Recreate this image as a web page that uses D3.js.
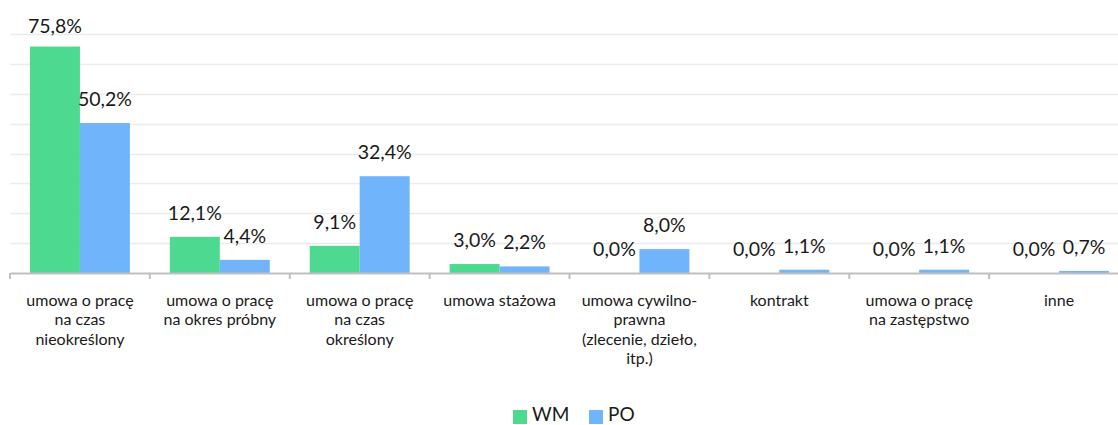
<!DOCTYPE html>
<html>
<head>
<meta charset="utf-8">
<script src="https://cdn.jsdelivr.net/npm/d3@7"></script>
<style>
  body { margin: 0; background: #fff; }
  svg { display: block; font-family: Lato, "Open Sans", sans-serif; }
</style>
</head>
<body>
<div class="canvas"></div>
<script>
// kategorie (podzielone na linie jak w oryginale)
var categories = [
  ["umowa o pracę", "na czas", "nieokreślony"],
  ["umowa o pracę", "na okres próbny"],
  ["umowa o pracę", "na czas", "określony"],
  ["umowa stażowa"],
  ["umowa cywilno-", "prawna", "(zlecenie, dzieło,", "itp.)"],
  ["kontrakt"],
  ["umowa o pracę", "na zastępstwo"],
  ["inne"]
];
var seriesNames = ["WM", "PO"];
var wm = [75.8, 12.1, 9.1, 3.0, 0.0, 0.0, 0.0, 0.0];
var po = [50.2, 4.4, 32.4, 2.2, 8.0, 1.1, 1.1, 0.7];
var yTicks = [0, 10, 20, 30, 40, 50, 60, 70, 80];

var colors = ["#4dd990", "#70b4fc"];

var width = 1118, height = 425;
var svg = d3.select(".canvas").append("svg")
  .attr("width", width)
  .attr("height", height);

// skale
var x = d3.scaleBand()
  .domain(d3.range(categories.length))
  .range([10, 1129]);

var xs = d3.scaleBand()
  .domain([0, 1])
  .range([0, x.bandwidth()])
  .paddingInner(0)
  .paddingOuter(0.4);

var y = d3.scaleLinear()
  .domain([0, 80])
  .range([273, 34]);

// linie siatki
svg.append("g").selectAll("line")
  .data(yTicks.slice(1))
  .enter().append("line")
  .attr("x1", 10).attr("x2", width)
  .attr("y1", function(d) { return Math.round(y(d)) + 0.5; })
  .attr("y2", function(d) { return Math.round(y(d)) + 0.5; })
  .attr("stroke", "#ececec")
  .attr("stroke-width", 1.5);

// słupki
var data = [];
for (var i = 0; i < categories.length; i++) {
  data.push({c: i, s: 0, v: wm[i]});
  data.push({c: i, s: 1, v: po[i]});
}

svg.append("g").selectAll("rect")
  .data(data)
  .enter().append("rect")
  .attr("x", function(d) { return x(d.c) + xs(d.s); })
  .attr("width", xs.bandwidth())
  .attr("y", function(d) { return y(d.v); })
  .attr("height", function(d) { return y(0) - y(d.v); })
  .attr("fill", function(d) { return colors[d.s]; });

// etykiety wartości
svg.append("g").selectAll("text")
  .data(data)
  .enter().append("text")
  .attr("x", function(d) { return x(d.c) + xs(d.s) + xs.bandwidth() / 2; })
  .attr("y", function(d) { return Math.max(y(d.v) - 17, 33); })
  .attr("text-anchor", "middle")
  .attr("font-size", "19.5px")
  .attr("fill", "#1a1a1a")
  .text(function(d) { return d.v.toFixed(1).replace(".", ",") + "%"; });

// oś x
var axisx = d3.axisBottom(x).tickSize(0).tickFormat("");
var gx = svg.append("g")
  .attr("transform", "translate(0," + y(0) + ")")
  .call(axisx);
gx.select(".domain").attr("stroke", "#bfbfbf").attr("stroke-width", 2);

// znaczniki między kategoriami
svg.append("g").selectAll("line")
  .data(d3.range(categories.length + 1))
  .enter().append("line")
  .attr("x1", function(d) { return 10 + d * x.step(); })
  .attr("x2", function(d) { return 10 + d * x.step(); })
  .attr("y1", y(0)).attr("y2", y(0) + 6)
  .attr("stroke", "#bfbfbf")
  .attr("stroke-width", 2);

// etykiety kategorii - każda linia osobno
var labG = svg.append("g");
categories.forEach(function(lines, i) {
  lines.forEach(function(l, j) {
    labG.append("text")
      .attr("x", x(i) + x.bandwidth() / 2)
      .attr("y", 306 + j * 19.3)
      .attr("text-anchor", "middle")
      .attr("font-size", "16px")
      .attr("fill", "#1a1a1a")
      .text(l);
  });
});

// legenda
var legX = [513, 589];
var leg = svg.append("g").selectAll("g")
  .data(seriesNames)
  .enter().append("g")
  .attr("transform", function(d, i) { return "translate(" + legX[i] + ",410)"; });
leg.append("rect")
  .attr("width", 14).attr("height", 14)
  .attr("fill", function(d, i) { return colors[i]; });
leg.append("text")
  .attr("x", 19).attr("y", 11)
  .attr("font-size", "19px")
  .attr("fill", "#1a1a1a")
  .text(function(d) { return d; });
</script>
</body>
</html>
